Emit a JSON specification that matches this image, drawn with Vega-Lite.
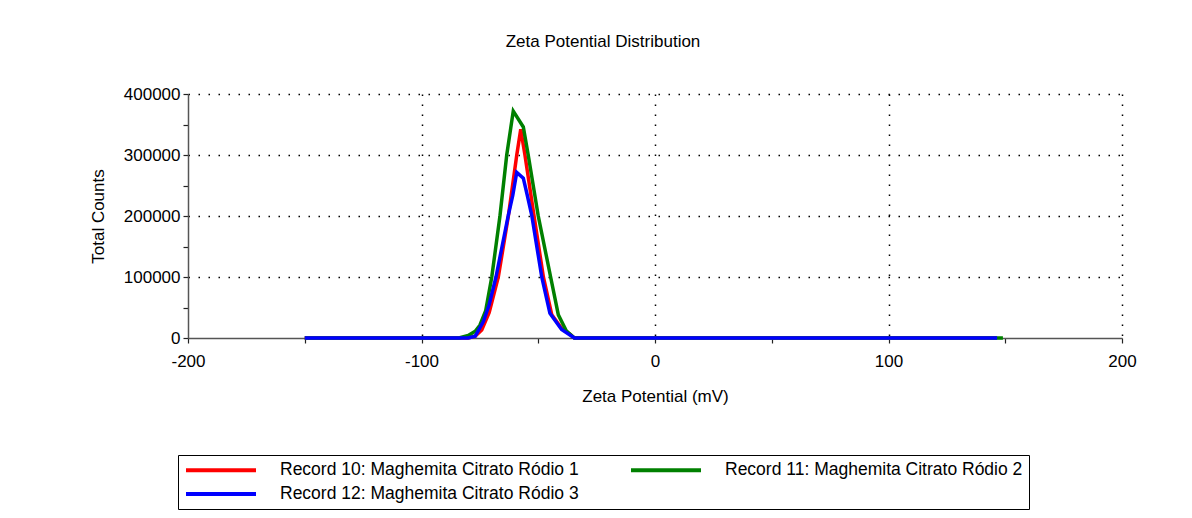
{
  "$schema": "https://vega.github.io/schema/vega-lite/v6.json",
  "autosize": "none",
  "width": 934,
  "height": 244,
  "padding": {"left": 188, "top": 94, "right": 70, "bottom": 180},
  "background": "white",
  "config": {
    "font": "Liberation Sans",
    "view": {"stroke": null}
  },
  "title": {
    "text": "Zeta Potential Distribution",
    "fontSize": 17,
    "fontWeight": "normal",
    "color": "#000",
    "anchor": "middle",
    "dx": -52,
    "offset": 34
  },
  "data": {
    "values": [
      {"record": "Record 10: Maghemita Citrato Ródio 1", "zeta": -150, "counts": 0},
      {"record": "Record 10: Maghemita Citrato Ródio 1", "zeta": -80, "counts": 0},
      {"record": "Record 10: Maghemita Citrato Ródio 1", "zeta": -77, "counts": 3000},
      {"record": "Record 10: Maghemita Citrato Ródio 1", "zeta": -74.2, "counts": 13000},
      {"record": "Record 10: Maghemita Citrato Ródio 1", "zeta": -71, "counts": 42000},
      {"record": "Record 10: Maghemita Citrato Ródio 1", "zeta": -67.1, "counts": 100000},
      {"record": "Record 10: Maghemita Citrato Ródio 1", "zeta": -62.8, "counts": 200000},
      {"record": "Record 10: Maghemita Citrato Ródio 1", "zeta": -59.2, "counts": 300000},
      {"record": "Record 10: Maghemita Citrato Ródio 1", "zeta": -57.5, "counts": 342000},
      {"record": "Record 10: Maghemita Citrato Ródio 1", "zeta": -55.7, "counts": 300000},
      {"record": "Record 10: Maghemita Citrato Ródio 1", "zeta": -51.8, "counts": 200000},
      {"record": "Record 10: Maghemita Citrato Ródio 1", "zeta": -47.8, "counts": 100000},
      {"record": "Record 10: Maghemita Citrato Ródio 1", "zeta": -44.2, "counts": 38000},
      {"record": "Record 10: Maghemita Citrato Ródio 1", "zeta": -40, "counts": 16000},
      {"record": "Record 10: Maghemita Citrato Ródio 1", "zeta": -36.4, "counts": 6000},
      {"record": "Record 10: Maghemita Citrato Ródio 1", "zeta": -34.5, "counts": 0},
      {"record": "Record 10: Maghemita Citrato Ródio 1", "zeta": 146.5, "counts": 0},

      {"record": "Record 11: Maghemita Citrato Ródio 2", "zeta": -150, "counts": 0},
      {"record": "Record 11: Maghemita Citrato Ródio 2", "zeta": -84, "counts": 0},
      {"record": "Record 11: Maghemita Citrato Ródio 2", "zeta": -80, "counts": 4000},
      {"record": "Record 11: Maghemita Citrato Ródio 2", "zeta": -77, "counts": 11000},
      {"record": "Record 11: Maghemita Citrato Ródio 2", "zeta": -75, "counts": 21000},
      {"record": "Record 11: Maghemita Citrato Ródio 2", "zeta": -72.5, "counts": 45000},
      {"record": "Record 11: Maghemita Citrato Ródio 2", "zeta": -69.9, "counts": 100000},
      {"record": "Record 11: Maghemita Citrato Ródio 2", "zeta": -66.4, "counts": 200000},
      {"record": "Record 11: Maghemita Citrato Ródio 2", "zeta": -63.5, "counts": 300000},
      {"record": "Record 11: Maghemita Citrato Ródio 2", "zeta": -60.7, "counts": 372000},
      {"record": "Record 11: Maghemita Citrato Ródio 2", "zeta": -56.4, "counts": 346000},
      {"record": "Record 11: Maghemita Citrato Ródio 2", "zeta": -54.3, "counts": 300000},
      {"record": "Record 11: Maghemita Citrato Ródio 2", "zeta": -50, "counts": 200000},
      {"record": "Record 11: Maghemita Citrato Ródio 2", "zeta": -44.7, "counts": 100000},
      {"record": "Record 11: Maghemita Citrato Ródio 2", "zeta": -41.4, "counts": 38000},
      {"record": "Record 11: Maghemita Citrato Ródio 2", "zeta": -38, "counts": 12000},
      {"record": "Record 11: Maghemita Citrato Ródio 2", "zeta": -34.5, "counts": 0},
      {"record": "Record 11: Maghemita Citrato Ródio 2", "zeta": 149, "counts": 0},

      {"record": "Record 12: Maghemita Citrato Ródio 3", "zeta": -150, "counts": 0},
      {"record": "Record 12: Maghemita Citrato Ródio 3", "zeta": -80, "counts": 0},
      {"record": "Record 12: Maghemita Citrato Ródio 3", "zeta": -77, "counts": 3000},
      {"record": "Record 12: Maghemita Citrato Ródio 3", "zeta": -73.5, "counts": 27000},
      {"record": "Record 12: Maghemita Citrato Ródio 3", "zeta": -71, "counts": 55000},
      {"record": "Record 12: Maghemita Citrato Ródio 3", "zeta": -68.1, "counts": 100000},
      {"record": "Record 12: Maghemita Citrato Ródio 3", "zeta": -65.5, "counts": 150000},
      {"record": "Record 12: Maghemita Citrato Ródio 3", "zeta": -62.8, "counts": 201600},
      {"record": "Record 12: Maghemita Citrato Ródio 3", "zeta": -60.9, "counts": 234000},
      {"record": "Record 12: Maghemita Citrato Ródio 3", "zeta": -59.2, "counts": 271600},
      {"record": "Record 12: Maghemita Citrato Ródio 3", "zeta": -56.4, "counts": 262000},
      {"record": "Record 12: Maghemita Citrato Ródio 3", "zeta": -54.7, "counts": 234000},
      {"record": "Record 12: Maghemita Citrato Ródio 3", "zeta": -52.8, "counts": 201600},
      {"record": "Record 12: Maghemita Citrato Ródio 3", "zeta": -48.5, "counts": 100000},
      {"record": "Record 12: Maghemita Citrato Ródio 3", "zeta": -45, "counts": 40500},
      {"record": "Record 12: Maghemita Citrato Ródio 3", "zeta": -40, "counts": 14000},
      {"record": "Record 12: Maghemita Citrato Ródio 3", "zeta": -34.5, "counts": 0},
      {"record": "Record 12: Maghemita Citrato Ródio 3", "zeta": 146.5, "counts": 0}
    ]
  },
  "mark": {"type": "line", "strokeWidth": 3.5, "interpolate": "linear"},
  "encoding": {
    "x": {
      "field": "zeta",
      "type": "quantitative",
      "scale": {"domain": [-200, 200], "nice": false, "zero": false},
      "axis": {
        "title": "Zeta Potential (mV)",
        "titleFontSize": 17,
        "titleFontWeight": "normal",
        "titleColor": "#000",
        "titlePadding": 19,
        "values": [-200, -150, -100, -50, 0, 50, 100, 150, 200],
        "labelExpr": "datum.value % 100 === 0 ? '' + datum.value : ''",
        "labelFontSize": 17,
        "labelColor": "#000",
        "labelPadding": 10,
        "labelFlush": false,
        "labelOverlap": false,
        "domainColor": "#555",
        "domainWidth": 1.5,
        "tickColor": "#222",
        "tickSize": 5,
        "tickWidth": 1.2,
        "grid": true,
        "gridColor": "#000",
        "gridWidth": 1.5,
        "gridDash": [1.5, 8.5],
        "gridOpacity": {"condition": {"test": "datum.value % 100 !== 0 || datum.value === -200", "value": 0}, "value": 1}
      }
    },
    "y": {
      "field": "counts",
      "type": "quantitative",
      "scale": {"domain": [0, 400000], "nice": false},
      "axis": {
        "title": "Total Counts",
        "titleFontSize": 17,
        "titleFontWeight": "normal",
        "titleColor": "#000",
        "titlePadding": 16,
        "values": [0, 50000, 100000, 150000, 200000, 250000, 300000, 350000, 400000],
        "labelExpr": "datum.value % 100000 === 0 ? '' + datum.value : ''",
        "labelFontSize": 17,
        "labelColor": "#000",
        "labelPadding": 3,
        "labelFlush": false,
        "labelOverlap": false,
        "domainColor": "#555",
        "domainWidth": 1.5,
        "tickColor": "#222",
        "tickSize": 5,
        "tickWidth": 1.2,
        "grid": true,
        "gridColor": "#000",
        "gridWidth": 1.5,
        "gridDash": [1.5, 8.5],
        "gridOpacity": {"condition": {"test": "datum.value % 100000 !== 0 || datum.value === 0", "value": 0}, "value": 1}
      }
    },
    "color": {
      "field": "record",
      "type": "nominal",
      "scale": {
        "domain": ["Record 10: Maghemita Citrato Ródio 1", "Record 11: Maghemita Citrato Ródio 2", "Record 12: Maghemita Citrato Ródio 3"],
        "range": ["#ff0000", "#008000", "#0000ff"]
      },
      "legend": {
        "title": null,
        "orient": "none",
        "legendX": -10,
        "legendY": 361,
        "direction": "horizontal",
        "columns": 2,
        "columnPadding": 44,
        "rowPadding": 6,
        "symbolType": "M-1,0L9,0",
        "symbolSize": 196,
        "symbolStrokeWidth": 4,
        "labelFontSize": 17.5,
        "labelColor": "#000",
        "labelOffset": 78,
        "labelLimit": 500,
        "strokeColor": "#000",
        "padding": 6
      }
    }
  }
}
